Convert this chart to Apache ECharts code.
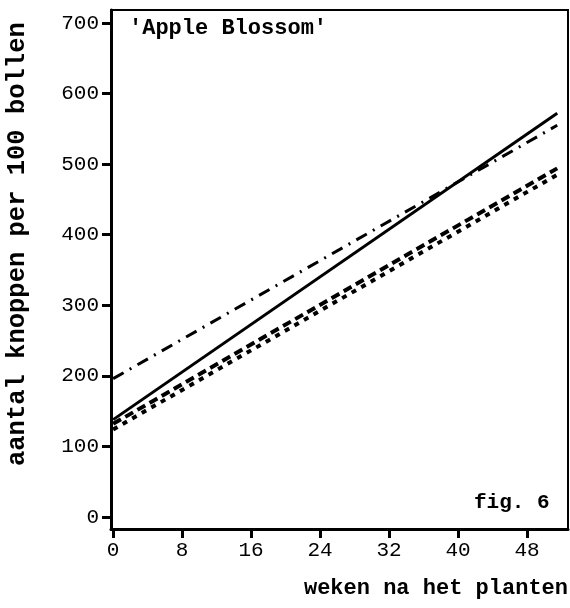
<!DOCTYPE html>
<html>
<head>
<meta charset="utf-8">
<script src="https://cdn.jsdelivr.net/npm/echarts@6/dist/echarts.min.js"></script>
<style>
  html, body { margin: 0; padding: 0; background: #fff; }
  #chart { width: 570px; height: 608px; }
</style>
</head>
<body>
<div id="chart"></div>
<script>
const weeks = [0, 51.5];
const solidLine = [138, 572];
const dashDotLine = [196, 555];
const dashLongLine = [132, 494];
const dashShortLine = [124, 485];
const xTicks = [0, 8, 16, 24, 32, 40, 48];
const yTicks = [0, 100, 200, 300, 400, 500, 600, 700];

const mono = "Liberation Mono";
const chart = echarts.init(document.getElementById("chart"), null, { renderer: "canvas" });

function pairs(values) {
  return weeks.map((w, i) => [w, values[i]]);
}

function lineSeries(name, values, type, width) {
  return {
    name: name,
    type: "line",
    data: pairs(values),
    showSymbol: false,
    symbol: "none",
    animation: false,
    lineStyle: { color: "#000", width: width, type: type, cap: "butt" },
  };
}

const option = {
  animation: false,
  backgroundColor: "#fff",
  grid: {
    left: 111,
    right: 2,
    top: 10,
    bottom: 79,
    show: true,
    borderColor: "#000",
    borderWidth: 2,
    containLabel: false,
  },
  xAxis: {
    type: "value",
    min: -0.25,
    max: 52.75,
    splitLine: { show: false },
    axisLine: { onZero: false, lineStyle: { color: "#000", width: 3 } },
    axisTick: { show: true, customValues: xTicks, length: 9, lineStyle: { color: "#000", width: 3 } },
    axisLabel: { customValues: xTicks, color: "#000", fontFamily: mono, fontSize: 21, margin: 11 },
  },
  yAxis: {
    type: "value",
    min: -17,
    max: 718.4,
    splitLine: { show: false },
    axisLine: { onZero: false, lineStyle: { color: "#000", width: 3 } },
    axisTick: { show: true, customValues: yTicks, length: 9, lineStyle: { color: "#000", width: 3 } },
    axisLabel: { customValues: yTicks, color: "#000", fontFamily: mono, fontSize: 21, margin: 12 },
  },
  graphic: [
    {
      type: "text",
      left: 129,
      top: 17,
      style: { text: "'Apple Blossom'", font: "bold 22px 'Liberation Mono'", fill: "#000" },
    },
    {
      type: "text",
      left: 474,
      top: 492,
      style: { text: "fig. 6", font: "bold 21px 'Liberation Mono'", fill: "#000" },
    },
    {
      type: "text",
      right: 2,
      top: 577,
      style: { text: "weken na het planten", font: "bold 22px 'Liberation Mono'", fill: "#000" },
    },
    {
      type: "text",
      x: 5,
      y: 466,
      rotation: Math.PI / 2,
      style: { text: "aantal knoppen per 100 bollen", font: "bold 25.5px 'Liberation Mono'", fill: "#000" },
    },
  ],
  series: [
    lineSeries("solid", solidLine, "solid", 3),
    lineSeries("dashdot", dashDotLine, [12, 7, 2, 7], 3),
    lineSeries("dashlong", dashLongLine, [9, 5], 4),
    lineSeries("dashshort", dashShortLine, [5, 6], 4),
  ],
};

chart.setOption(option);
</script>
</body>
</html>
